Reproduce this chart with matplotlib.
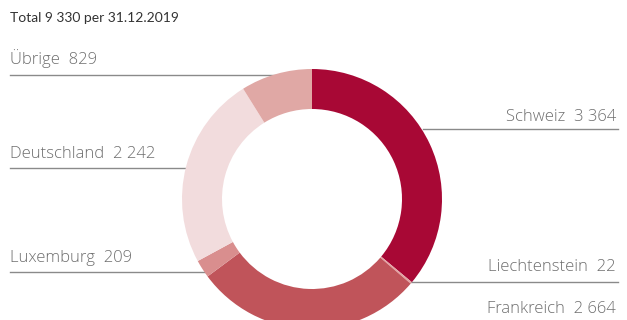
import matplotlib.pyplot as plt

# data, clockwise from the top
laender = ["Schweiz", "Liechtenstein", "Frankreich", "Luxemburg", "Deutschland", "Übrige"]
werte = [3364, 22, 2664, 209, 2242, 829]
wert_labels = ["3 364", "22", "2 664", "209", "2 242", "829"]
titel = "Total 9 330 per 31.12.2019"

farben = ["#A80835", "#E3A3A3", "#C0545A", "#D98E8E", "#F2DCDD", "#E0A8A5"]

W, H = 627, 320
fig = plt.figure(figsize=(W / 100, H / 100), dpi=100)
ax = fig.add_axes([0, 0, 1, 1])

def y(px):
    # pixel row (from top) -> data y
    return H - px

cx, cy = 312, 199
ax.pie(werte, colors=farben, startangle=90, counterclock=False,
       center=(cx, y(cy)), radius=130,
       wedgeprops=dict(width=40, edgecolor="none", linewidth=0), frame=True)
ax.set_xlim(0, W)
ax.set_ylim(0, H)
ax.set_aspect("equal")
ax.axis("off")

grau_linie = "#8a8a8a"
grau_text = "#6e6e6e"
fs = 12

# label, text pos, line (x0, x1, row), alignment
beschriftung = {
    "Übrige":        (10, 64, (10, 280, 75), "left"),
    "Deutschland":   (10, 158, (10, 187, 168), "left"),
    "Luxemburg":     (10, 262, (10, 207, 272), "left"),
    "Schweiz":       (616, 121, (423, 618, 129), "right"),
    "Liechtenstein": (616, 271, (410, 618, 282), "right"),
    "Frankreich":    (616, 313, None, "right"),
}

for land, wl in zip(laender, wert_labels):
    tx, ty, linie, ha = beschriftung[land]
    ax.text(tx, y(ty), land + "  " + wl, ha=ha, va="baseline",
            fontsize=fs, color=grau_text, family="Open Sans",
            fontweight="light", zorder=5)
    if linie:
        x0, x1, r = linie
        ax.plot([x0, x1], [y(r), y(r)], color=grau_linie, lw=1, zorder=0)

ax.text(10, y(22), titel, ha="left", va="baseline", fontsize=10,
        color="#333333", family="Lato")

fig.savefig("out.png", dpi=100)
